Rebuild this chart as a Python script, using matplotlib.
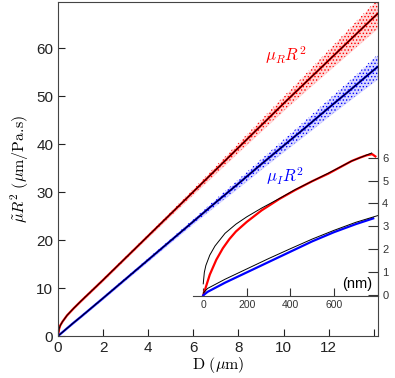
import numpy as np
import matplotlib
matplotlib.use("Agg")
import matplotlib.pyplot as plt

plt.rcParams['font.family'] = ['Liberation Sans', 'DejaVu Sans']
plt.rcParams['mathtext.fontset'] = 'cm'
plt.rcParams['hatch.linewidth'] = 0.6

# main panel: D (um) vs mu R^2 (um/Pa.s)
d_main = [0, 0.05, 0.1, 0.2, 0.4, 0.7, 1, 2, 3, 4, 5, 6, 7, 8, 9, 10, 11, 12, 13, 14, 14.19]
red_main = [0, 1.5, 2.2, 3.0, 4.3, 5.8, 7.2, 11.7, 16.3, 20.9, 25.5, 30.1, 34.7, 39.3,
            43.9, 48.5, 53.0, 57.5, 62.0, 66.5, 67.3]
red_spread = [0.1, 0.1, 0.1, 0.15, 0.2, 0.2, 0.25, 0.3, 0.3, 0.35, 0.45, 0.6, 0.8, 1.0,
              1.25, 1.5, 1.8, 2.2, 2.6, 3.0, 3.1]
blue_main = [0, 0.2, 0.4, 0.8, 1.6, 2.8, 3.95, 7.9, 11.9, 15.9, 19.9, 23.9, 27.9, 31.8,
             35.8, 39.7, 43.6, 47.6, 51.5, 55.5, 56.2]
blue_spread = [0.1, 0.1, 0.1, 0.1, 0.15, 0.2, 0.2, 0.25, 0.3, 0.35, 0.4, 0.5, 0.7, 0.9,
               1.1, 1.3, 1.55, 1.8, 2.1, 2.5, 2.6]

# inset: D (nm)
d_red_in = [0, 10, 30, 60, 90, 120, 150, 200, 268, 350, 421, 500, 574, 681, 720, 750, 775, 790]
red_in = [0, 0.3, 0.9, 1.55, 2.05, 2.45, 2.78, 3.2, 3.7, 4.2, 4.58, 4.97, 5.3, 5.85,
          6.0, 6.1, 6.15, 6.05]
d_red_fit = [0, 5, 12, 30, 54, 100, 150, 200, 268, 350, 421, 574, 681, 773]
red_fit = [0.5, 1.0, 1.3, 1.75, 2.15, 2.7, 3.1, 3.42, 3.8, 4.22, 4.6, 5.32, 5.85, 6.2]
d_blue_in = [0, 20, 50, 100, 200, 300, 400, 500, 600, 700, 780]
blue_in = [0, 0.15, 0.3, 0.55, 1.0, 1.45, 1.9, 2.35, 2.75, 3.1, 3.35]
d_blue_fit = [0, 20, 50, 100, 200, 300, 400, 500, 600, 700, 800]
blue_fit = [0.1, 0.3, 0.45, 0.7, 1.15, 1.6, 2.03, 2.45, 2.83, 3.18, 3.47]

fig = plt.figure(figsize=(3.95, 3.78), dpi=100)
ax = fig.add_axes([58 / 395, 42 / 378, 320 / 395, 334 / 378])

for yv, sp, col in [(red_main, red_spread, 'red'), (blue_main, blue_spread, 'blue')]:
    yv = np.array(yv)
    sp = np.array(sp)
    ax.fill_between(d_main, yv - sp, yv + sp, color=col, alpha=0.15, lw=0)
    ax.fill_between(d_main, yv - sp, yv + sp, facecolor='none', edgecolor=col,
                    hatch='.....', lw=0)
    ax.plot(d_main, yv, color=col, lw=1.6)
    ax.plot(d_main, yv, color='black', lw=0.7)

ax.set_xlim(0, 14.19)
ax.set_ylim(0, 69.7)
ax.set_xticks(range(0, 15, 2))
ax.set_xticklabels([str(v) for v in range(0, 13, 2)] + [''])
ax.set_yticks(range(0, 61, 10))
ax.tick_params(direction='in', length=5, labelsize=11, colors='#222222')
for s in ax.spines.values():
    s.set_color('#444444')
ax.set_xlabel(r'$\mathrm{D}\ (\mu\mathrm{m})$', fontsize=11.5, labelpad=0)
ax.set_ylabel(r'$\tilde{\mu}R^2\ (\mu\mathrm{m/Pa}.\!\mathrm{s})$', fontsize=11.5, labelpad=4)
ax.text(10.1, 58.7, r'$\mu_R R^2$', color='red', fontsize=12, ha='center', va='center')
ax.text(10.05, 33.4, r'$\mu_I R^2$', color='blue', fontsize=12, ha='center', va='center')

# inset
ins = fig.add_axes([193 / 395, 82 / 378, 185 / 395, 146 / 378])
ins.patch.set_alpha(0)
ins.plot(d_red_in, red_in, color='red', lw=1.6)
ins.plot(d_red_fit, red_fit, color='black', lw=0.7)
ins.plot(d_blue_in, blue_in, color='blue', lw=1.6)
ins.plot(d_blue_fit, blue_fit, color='black', lw=0.7)
ins.set_xlim(-47, 802)
ins.set_ylim(-0.03, 6.33)
ins.spines['left'].set_visible(False)
ins.spines['top'].set_visible(False)
ins.spines['right'].set_color('#444444')
ins.spines['bottom'].set_color('#444444')
ins.yaxis.tick_right()
ins.set_xticks([0, 200, 400, 600])
ins.set_yticks(range(0, 7))
ins.tick_params(axis='x', direction='in', length=6, labelsize=7.5, colors='#333333', pad=3)
ins.tick_params(axis='y', direction='in', length=7, labelsize=8, colors='#333333', pad=3)
ins.text(706, 0.49, '(nm)', fontsize=10.5, ha='center', va='center')

fig.savefig('out.png', dpi=100)
